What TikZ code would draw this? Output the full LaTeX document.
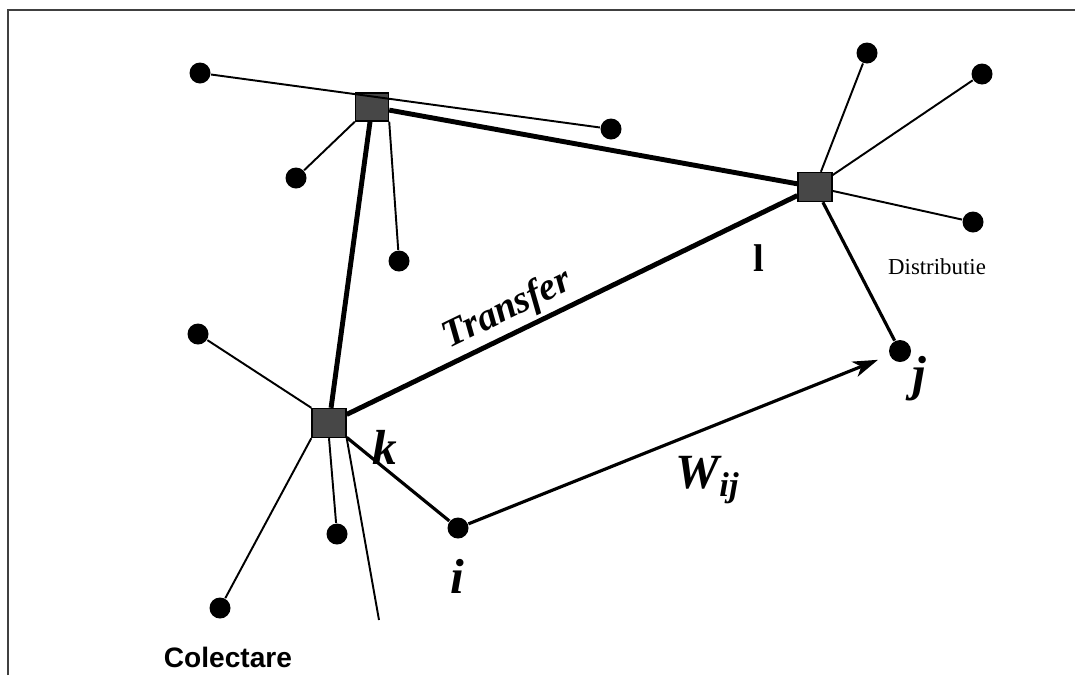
\documentclass[tikz,border=0pt]{standalone}
\usepackage{fontspec}
\setmainfont{Liberation Serif}
\setsansfont{Liberation Sans}
\usetikzlibrary{positioning,arrows.meta}

\begin{document}
\begin{tikzpicture}[>=Stealth,
  hub/.style={draw=black, fill=black!72, inner sep=0pt, minimum width=0.33cm, minimum height=0.28cm},
  sink/.style={circle, fill=black, inner sep=0pt, minimum size=0.21cm},
  feeder/.style={line width=0.55pt},
  spur/.style={line width=0.9pt},
  trunk/.style={line width=1.4pt},
  tag/.style={font=\fontsize{14}{16}\selectfont\bfseries\itshape}]
  \useasboundingbox (0,0) rectangle (10.75,-6.75);
  \draw[black!75, line width=0.6pt] (0.08,-6.75) -- (0.08,-0.10) -- (10.75,-0.10);

  \node[hub] (h1) at (3.72,-1.07) {};
  \node[hub, minimum width=0.34cm, minimum height=0.29cm] (h2) at (8.15,-1.87) {};
  \node[hub, minimum width=0.34cm, minimum height=0.29cm] (h3) at (3.29,-4.23) {};

  \node[sink] (a1) at (2.00,-0.73) {};
  \node[sink] (a2) at (2.96,-1.78) {};
  \node[sink] (a3) at (3.99,-2.61) {};
  \node[sink] (a4) at (6.11,-1.29) {};
  \node[sink] (b1) at (8.67,-0.53) {};
  \node[sink] (b2) at (9.82,-0.74) {};
  \node[sink] (b3) at (9.73,-2.22) {};
  \node[sink, minimum size=0.22cm] (j) at (9.00,-3.51) {};
  \node[sink] (c1) at (1.98,-3.34) {};
  \node[sink] (c2) at (3.37,-5.34) {};
  \node[sink] (c3) at (2.20,-6.08) {};
  \node[sink] (i) at (4.58,-5.28) {};
  \coordinate (e) at (3.79,-6.20);

  \draw[feeder] (a1) -- (a4);
  \draw[feeder] (h1.south west) -- (a2);
  \draw[feeder] (h1.south east) -- (a3);
  \draw[feeder] (h2) -- (b1);
  \draw[feeder] (h2) -- (b2);
  \draw[feeder] (h2) -- (b3);
  \draw[feeder] (h3.north west) -- (c1);
  \draw[feeder] (h3.south) -- (c2);
  \draw[feeder] (h3.south west) -- (c3);
  \draw[feeder] (h3.south east) -- (e);

  \draw[trunk] (h1) -- (h2);
  \draw[trunk] (h1) -- (h3);
  \draw[trunk] (h3) -- node[pos=0.38, above=0pt, inner sep=1pt, sloped, font=\fontsize{11}{13}\selectfont\bfseries\itshape] (transfer) {Transfer} (h2);
  \draw[spur] (h2) -- (j);
  \draw[spur] (h3) -- (i);
  \draw[spur, -{Stealth[length=0.25cm, width=0.16cm, inset=0.07cm]}, shorten >=0.12cm] (i) -- (j);

  \node[font=\fontsize{11}{13}\selectfont\bfseries] (lab-l) at (7.59,-2.58) {l};
  \node[font=\fontsize{6.5}{8}\selectfont] (distrib) at (9.37,-2.67) {Distributie};
  \node[tag] (lab-j) at (9.19,-3.79) {j};
  \node[tag] (lab-k) at (3.85,-4.47) {k};
  \node[tag] (lab-i) at (4.57,-5.76) {i};
  \node[tag] (lab-w) at (7.08,-4.80) {W\textsubscript{ij}};
  \node[font=\fontsize{8}{10}\selectfont\sffamily\bfseries] (colect) at (2.28,-6.57) {Colectare};
\end{tikzpicture}
\end{document}
